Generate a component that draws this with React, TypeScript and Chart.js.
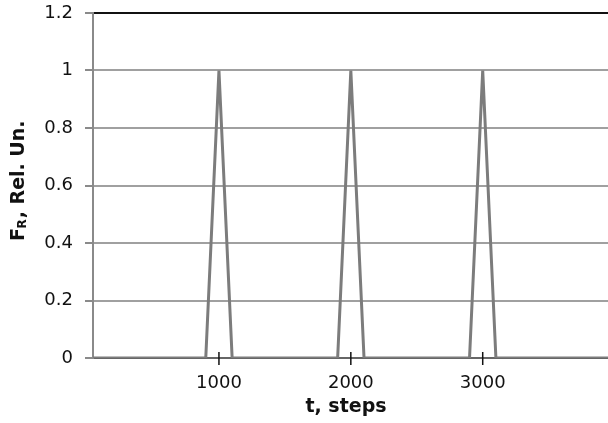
import React, { useEffect, useRef } from "react";
import { Chart, registerables } from "chart.js";

Chart.register(...registerables);

const steps = [0, 900, 1000, 1100, 1900, 2000, 2100, 2900, 3000, 3100, 4000];
const forceValues = [0, 0, 1, 0, 0, 1, 0, 0, 1, 0, 0];
const xTickValues = [1000, 2000, 3000];
const yTickValues = [0, 0.2, 0.4, 0.6, 0.8, 1, 1.2];
const xTitle = "t, steps";
const yTitleMain = "F";
const yTitleSub = "R";
const yTitleRest = ", Rel. Un.";

const FONT = "'DejaVu Sans', sans-serif";

const extras = {
  id: "extras",
  afterDatasetsDraw(chart: any) {
    const { ctx } = chart;
    const xs = chart.scales.x;
    const ys = chart.scales.y;
    const y0 = ys.getPixelForValue(0);
    ctx.save();
    ctx.strokeStyle = "#111";
    ctx.lineWidth = 1.5;
    xTickValues.forEach((v) => {
      const px = xs.getPixelForValue(v);
      ctx.beginPath();
      ctx.moveTo(px, y0 - 6);
      ctx.lineTo(px, y0 + 7);
      ctx.stroke();
    });
    ctx.restore();
  },
  afterDraw(chart: any) {
    const { ctx } = chart;
    ctx.save();
    ctx.fillStyle = "#111";
    ctx.font = `bold 19px ${FONT}`;
    ctx.textAlign = "center";
    ctx.textBaseline = "middle";
    ctx.fillText(xTitle, 346, 407);
    ctx.restore();

    ctx.save();
    ctx.translate(17, 181);
    ctx.rotate(-Math.PI / 2);
    ctx.fillStyle = "#111";
    ctx.textAlign = "left";
    ctx.textBaseline = "alphabetic";
    const big = `bold 19px ${FONT}`;
    const small = `bold 12px ${FONT}`;
    ctx.font = big;
    const w1 = ctx.measureText(yTitleMain).width;
    const w3 = ctx.measureText(yTitleRest).width;
    ctx.font = small;
    const w2 = ctx.measureText(yTitleSub).width;
    const total = w1 + w2 + w3;
    let x = -total / 2;
    const base = 7;
    ctx.font = big;
    ctx.fillText(yTitleMain, x, base);
    x += w1 - 0.5;
    ctx.font = small;
    ctx.fillText(yTitleSub, x, base + 2);
    x += w2 + 1;
    ctx.font = big;
    ctx.fillText(yTitleRest, x, base);
    ctx.restore();
  },
};

export default function App() {
  const ref = useRef<HTMLCanvasElement>(null);
  useEffect(() => {
    document.body.style.margin = "0";
    const canvas = ref.current!;
    const chart = new Chart(canvas, {
      type: "line",
      data: {
        datasets: [
          {
            data: steps.map((s, i) => ({ x: s, y: forceValues[i] })),
            borderColor: "#7c7c7c",
            borderWidth: 3,
            pointRadius: 0,
            tension: 0,
            fill: false,
          },
        ],
      },
      options: {
        animation: false,
        responsive: false,
        maintainAspectRatio: false,
        layout: { padding: { top: 13, right: 0, left: 0, bottom: 0 } },
        plugins: { legend: { display: false }, tooltip: { enabled: false } },
        scales: {
          x: {
            type: "linear",
            min: 45,
            max: 3950,
            afterBuildTicks: (scale: any) => {
              scale.ticks = xTickValues.map((v) => ({ value: v }));
            },
            afterFit: (scale: any) => {
              scale.height = 65;
              scale.paddingLeft = 0;
              scale.paddingRight = 0;
            },
            grid: { display: false, drawTicks: false },
            border: { display: true, color: "#666", width: 2 },
            ticks: {
              color: "#111",
              font: { family: FONT, size: 18 },
              padding: 15,
              maxRotation: 0,
              callback: (v: any) => String(v),
            },
          },
          y: {
            type: "linear",
            min: 0,
            max: 1.2,
            afterBuildTicks: (scale: any) => {
              scale.ticks = yTickValues.map((v) => ({ value: v }));
            },
            afterFit: (scale: any) => {
              scale.width = 93;
              scale.paddingTop = 0;
              scale.paddingBottom = 0;
            },
            grid: {
              color: (c: any) => (c.tick && c.tick.value === 1.2 ? "#111" : "#a0a0a0"),
              lineWidth: 2,
              tickLength: 8,
              tickColor: "#8a8a8a",
            },
            border: { display: true, color: "#8a8a8a", width: 2 },
            ticks: {
              color: "#111",
              font: { family: FONT, size: 18 },
              padding: 12,
              callback: (v: any) => String(Math.round(v * 10) / 10),
            },
          },
        },
      },
      plugins: [extras],
    });
    return () => chart.destroy();
  }, []);
  return <canvas ref={ref} width={608} height={423} style={{ display: "block" }} />;
}
